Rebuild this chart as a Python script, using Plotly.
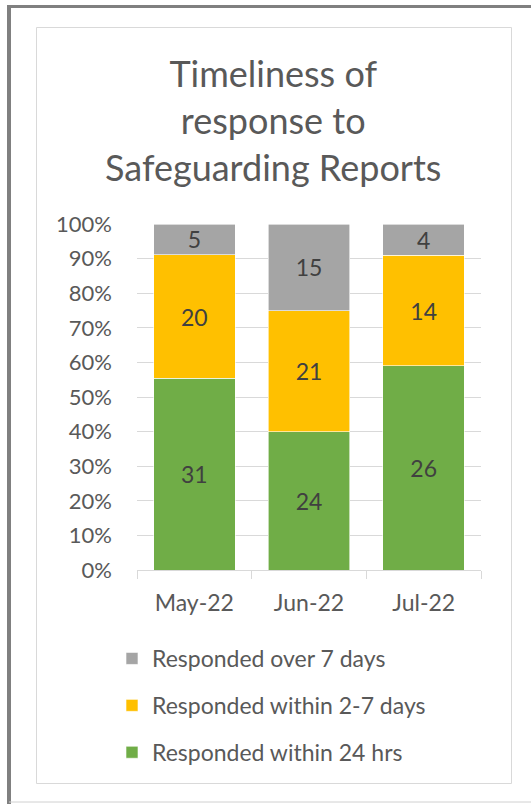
import plotly.graph_objects as go

# Monthly safeguarding report counts by response time
months = ["May-22", "Jun-22", "Jul-22"]
within_24h = [31, 24, 26]
within_2_7d = [20, 21, 14]
over_7d = [5, 15, 4]

series_names = ["Responded within 24 hrs", "Responded within 2-7 days", "Responded over 7 days"]
series_colors = ["#70AD47", "#FFC000", "#A5A5A5"]
y_ticks = [0, 10, 20, 30, 40, 50, 60, 70, 80, 90, 100]

W, H = 531, 804
L, R, T, B = 137, 50, 224, 234
PW, PH = W - L - R, H - T - B

def px_x(x):
    return (x - L) / PW

def px_y(y):
    return (H - B - y) / PH

totals = [a + b + c for a, b, c in zip(within_24h, within_2_7d, over_7d)]
series = [within_24h, within_2_7d, over_7d]

FONT = "Lato"
TXT = "#595959"

fig = go.Figure()
for i, (name, color, counts) in enumerate(zip(series_names, series_colors, series)):
    pct = [c / t * 100 for c, t in zip(counts, totals)]
    fig.add_trace(go.Bar(
        x=months, y=pct, name=name, legendgroup=name,
        legendrank=len(series) - i,  # top segment listed first
        marker=dict(color=color, line=dict(color="white", width=0.6)),
        text=[str(c) for c in counts], textposition="inside", textangle=0,
        insidetextanchor="middle", constraintext="none",
        textfont=dict(family=FONT, size=23, color="#404040"),
        hoverinfo="skip",
    ))

shapes = [
    # outer frame
    dict(type="line", xref="paper", yref="paper", x0=px_x(9), x1=px_x(531), y0=px_y(6.5), y1=px_y(6.5),
         line=dict(color="#808080", width=3)),
    dict(type="line", xref="paper", yref="paper", x0=px_x(9), x1=px_x(9), y0=px_y(5), y1=px_y(804),
         line=dict(color="#808080", width=4)),
    dict(type="line", xref="paper", yref="paper", x0=px_x(9), x1=px_x(531), y0=px_y(802), y1=px_y(802),
         line=dict(color="#d0d0d0", width=1)),
    # chart area border
    dict(type="rect", xref="paper", yref="paper", x0=px_x(36.5), x1=px_x(511.5), y0=px_y(27.5), y1=px_y(783.5),
         line=dict(color="#d9d9d9", width=1), layer="below"),
]

fig.update_layout(
    width=W, height=H,
    margin=dict(l=L, r=R, t=T, b=B),
    paper_bgcolor="white", plot_bgcolor="white",
    barmode="stack", bargap=0.29,
    font=dict(family=FONT, color=TXT),
    showlegend=True,
    legend=dict(
        x=px_x(112), y=px_y(637), xanchor="left", yanchor="top",
        traceorder="grouped", tracegroupgap=14,
        font=dict(family=FONT, size=23, color=TXT),
        bgcolor="rgba(0,0,0,0)",
    ),
    annotations=[dict(
        text="Timeliness of<br>response to<br>Safeguarding Reports",
        xref="paper", yref="paper", x=px_x(273), y=px_y(49),
        xanchor="center", yanchor="top", showarrow=False,
        font=dict(family=FONT, size=36, color=TXT),
    )],
    shapes=shapes,
    xaxis=dict(
        showline=True, linecolor="#d9d9d9", linewidth=1,
        ticks="outside", tickson="boundaries", ticklen=8, tickcolor="#d9d9d9",
        tickfont=dict(family=FONT, size=23, color=TXT),
        ticklabelstandoff=12,
        showgrid=False, fixedrange=True,
    ),
    yaxis=dict(
        range=[0, 100], tickvals=y_ticks, ticktext=[f"{v}%" for v in y_ticks],
        showgrid=True, gridcolor="#d9d9d9", gridwidth=1,
        zeroline=False, showline=False, ticks="",
        tickfont=dict(family=FONT, size=22, color=TXT),
        ticklabelstandoff=24, fixedrange=True,
    ),
)

fig.write_html("out.html")
